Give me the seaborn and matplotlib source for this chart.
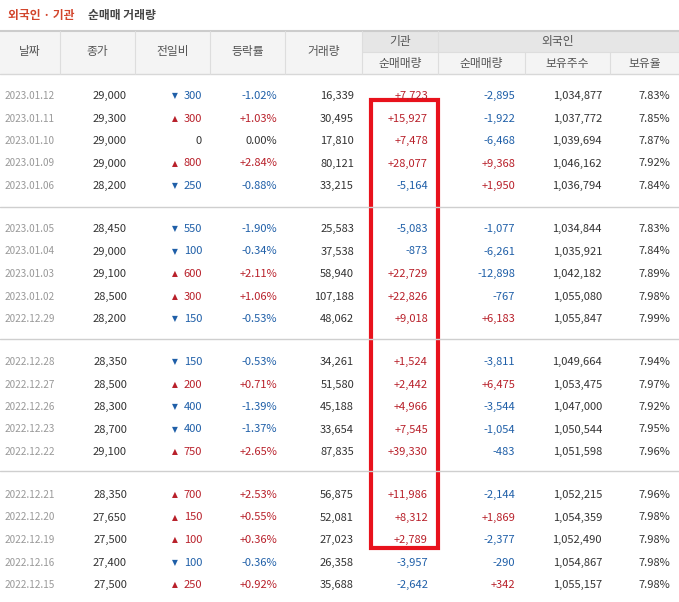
import matplotlib.pyplot as plt
import seaborn as sns
from matplotlib.patches import Rectangle

sns.set_theme(style="white")
plt.rcParams['font.family'] = ['Noto Sans CJK KR', 'DejaVu Sans']

dates = ["2023.01.12", "2023.01.11", "2023.01.10", "2023.01.09", "2023.01.06",
         "2023.01.05", "2023.01.04", "2023.01.03", "2023.01.02", "2022.12.29",
         "2022.12.28", "2022.12.27", "2022.12.26", "2022.12.23", "2022.12.22",
         "2022.12.21", "2022.12.20", "2022.12.19", "2022.12.16", "2022.12.15"]
close = [29000, 29300, 29000, 29000, 28200, 28450, 29000, 29100, 28500, 28200,
         28350, 28500, 28300, 28700, 29100, 28350, 27650, 27500, 27400, 27500]
change = [-300, 300, 0, 800, -250, -550, -100, 600, 300, -150,
          -150, 200, -400, -400, 750, 700, 150, 100, -100, 250]
rate = [-1.02, 1.03, 0.00, 2.84, -0.88, -1.90, -0.34, 2.11, 1.06, -0.53,
        -0.53, 0.71, -1.39, -1.37, 2.65, 2.53, 0.55, 0.36, -0.36, 0.92]
volume = [16339, 30495, 17810, 80121, 33215, 25583, 37538, 58940, 107188, 48062,
          34261, 51580, 45188, 33654, 87835, 56875, 52081, 27023, 26358, 35688]
inst_net = [7723, 15927, 7478, 28077, -5164, -5083, -873, 22729, 22826, 9018,
            1524, 2442, 4966, 7545, 39330, 11986, 8312, 2789, -3957, -2642]
frgn_net = [-2895, -1922, -6468, 9368, 1950, -1077, -6261, -12898, -767, 6183,
            -3811, 6475, -3544, -1054, -483, -2144, 1869, -2377, -290, 342]
frgn_hold = [1034877, 1037772, 1039694, 1046162, 1036794, 1034844, 1035921, 1042182, 1055080, 1055847,
             1049664, 1053475, 1047000, 1050544, 1051598, 1052215, 1054359, 1052490, 1054867, 1055157]
frgn_ratio = [7.83, 7.85, 7.87, 7.92, 7.84, 7.83, 7.84, 7.89, 7.98, 7.99,
              7.94, 7.97, 7.92, 7.95, 7.96, 7.96, 7.98, 7.98, 7.98, 7.98]

RED, BLUE, GRAY = "#b8202a", "#1f5fa8", "#333333"
W, H = 679, 602
fig = plt.figure(figsize=(W / 100, H / 100), dpi=100)
ax = fig.add_axes([0, 0, 1, 1])
ax.set_xlim(0, W)
ax.set_ylim(H, 0)
ax.axis("off")

edges = [0, 60, 135, 210, 285, 362, 438, 525, 610, 679]
fs = 8

# title
ax.text(8, 16, "외국인 · 기관", color="#d2452c", fontsize=8.5, fontweight="bold", va="center")
ax.text(88, 16, "순매매 거래량", color="#444444", fontsize=8.5, fontweight="bold", va="center")

# header
ax.add_patch(Rectangle((0, 31), W, 43, color="#f4f4f4", lw=0))
ax.add_patch(Rectangle((362, 31), W - 362, 21, color="#e6e6e6", lw=0))
ax.plot([0, W], [31, 31], color="#cccccc", lw=1.5)
ax.plot([0, W], [74, 74], color="#d8d8d8", lw=1)
ax.plot([362, W], [52, 52], color="#dddddd", lw=0.8)
for e in edges[1:-1]:
    y0 = 52 if e in (525, 610) else 31
    ax.plot([e, e], [y0, 74], color="#dddddd", lw=0.8)
hc = "#555555"
hfs = 8.5
for i, lab in enumerate(["날짜", "종가", "전일비", "등락률", "거래량"]):
    ax.text((edges[i] + edges[i + 1]) / 2, 52, lab, ha="center", va="center", fontsize=hfs, color=hc)
ax.text(400, 41, "기관", ha="center", va="center", fontsize=hfs, color=hc)
ax.text(558, 41, "외국인", ha="center", va="center", fontsize=hfs, color=hc)
for i, lab in enumerate(["순매매량", "순매매량", "보유주수", "보유율"]):
    ax.text((edges[i + 5] + edges[i + 6]) / 2, 63, lab, ha="center", va="center", fontsize=hfs, color=hc)

def sc(v):
    return RED if v > 0 else (BLUE if v < 0 else GRAY)

for r in range(len(dates)):
    g = r // 5
    y = 96 + g * 133 + (r % 5) * 22.5
    ax.text(5, y, dates[r], va="center", fontsize=fs - 0.8, color="#999999")
    ax.text(127, y, f"{close[r]:,}", ha="right", va="center", fontsize=fs, color=GRAY)
    c = change[r]
    if c != 0:
        ax.text(175, y, "▲" if c > 0 else "▼", ha="center", va="center", fontsize=fs - 2.5, color=sc(c),
                family="DejaVu Sans")
    ax.text(202, y, f"{abs(c):,}", ha="right", va="center", fontsize=fs, color=sc(c))
    ax.text(277, y, f"{rate[r]:+.2f}%" if rate[r] != 0 else "0.00%", ha="right", va="center", fontsize=fs, color=sc(rate[r]))
    ax.text(354, y, f"{volume[r]:,}", ha="right", va="center", fontsize=fs, color=GRAY)
    ax.text(428, y, f"{inst_net[r]:+,}", ha="right", va="center", fontsize=fs, color=sc(inst_net[r]))
    ax.text(515, y, f"{frgn_net[r]:+,}", ha="right", va="center", fontsize=fs, color=sc(frgn_net[r]))
    ax.text(602, y, f"{frgn_hold[r]:,}", ha="right", va="center", fontsize=fs, color=GRAY)
    ax.text(670, y, f"{frgn_ratio[r]:.2f}%", ha="right", va="center", fontsize=fs, color=GRAY)

for yl in [207, 339, 471]:
    ax.plot([0, W], [yl, yl], color="#cfcfcf", lw=1)

ax.add_patch(Rectangle((371, 100), 67, 448, fill=False, edgecolor="#e8121c", lw=3))

fig.savefig("out.png", dpi=100, facecolor="white")
